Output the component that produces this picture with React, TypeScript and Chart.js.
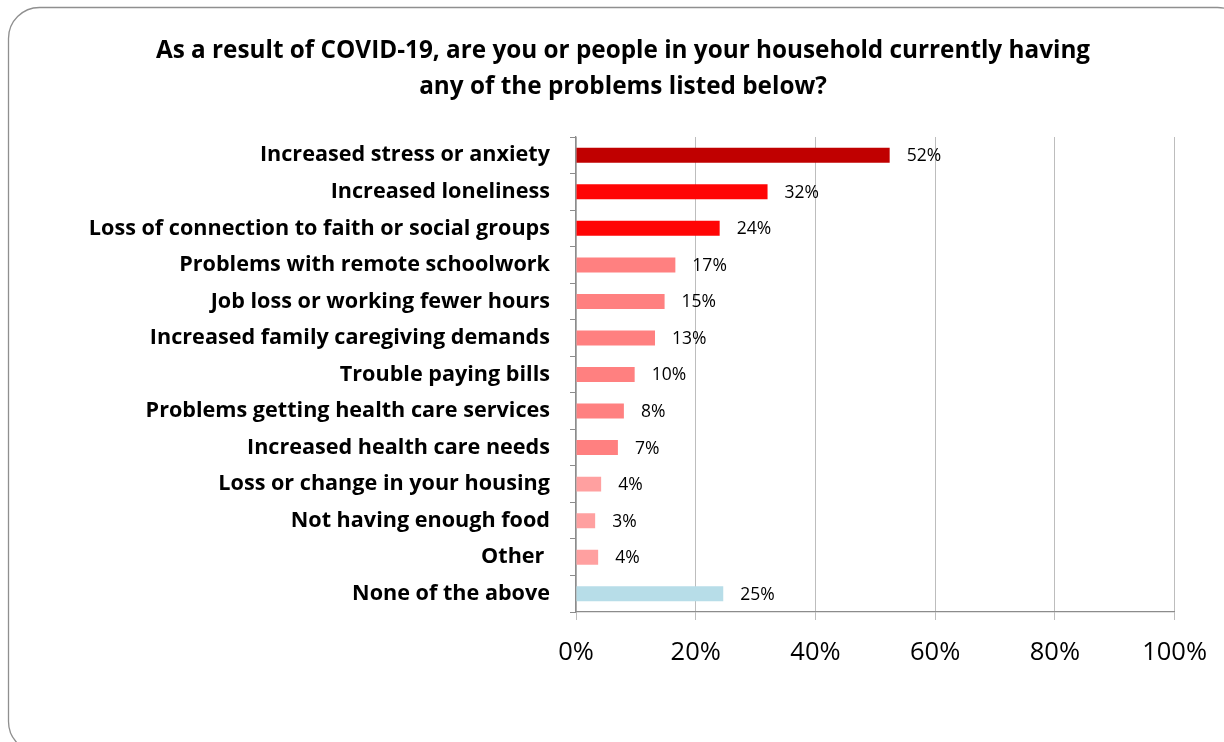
import React, { useEffect, useRef } from "react";
import { Chart, registerables } from "chart.js";

Chart.register(...registerables);

const titleLines = [
  "As a result of COVID-19, are you or people in your household currently having",
  "any of the problems listed below?",
];

const categories = [
  "Increased stress or anxiety",
  "Increased loneliness",
  "Loss of connection to faith or social groups",
  "Problems with remote schoolwork",
  "Job loss or working fewer hours",
  "Increased family caregiving demands",
  "Trouble paying bills",
  "Problems getting health care services",
  "Increased health care needs",
  "Loss or change in your housing",
  "Not having enough food",
  "Other ",
  "None of the above",
];

const values = [52.4, 32, 24, 16.6, 14.8, 13.2, 9.8, 8, 7, 4.2, 3.2, 3.7, 24.6];

const barColors = [
  "#C00000",
  "#FF0505",
  "#FF0505",
  "#FF8080",
  "#FF8080",
  "#FF8080",
  "#FF8080",
  "#FF8080",
  "#FF8080",
  "#FFA0A0",
  "#FFA0A0",
  "#FFA0A0",
  "#B7DDE8",
];

const xTicks = [0, 20, 40, 60, 80, 100];

const FONT = "'Open Sans', sans-serif";

const W = 1224;
const H = 742;
const AREA = { left: 576, right: 1175, top: 137, bottom: 612 };

const framePlugin = {
  id: "frame",
  beforeDraw(chart: any) {
    const ctx = chart.ctx;
    ctx.save();
    ctx.fillStyle = "#ffffff";
    ctx.fillRect(0, 0, W, H);
    const x = 8.5, y = 7.5, w = 1240, h = 745, r = 31;
    ctx.beginPath();
    ctx.moveTo(x + r, y);
    ctx.lineTo(x + w - r, y);
    ctx.arcTo(x + w, y, x + w, y + r, r);
    ctx.lineTo(x + w, y + h - r);
    ctx.arcTo(x + w, y + h, x + w - r, y + h, r);
    ctx.lineTo(x + r, y + h);
    ctx.arcTo(x, y + h, x, y + h - r, r);
    ctx.lineTo(x, y + r);
    ctx.arcTo(x, y, x + r, y, r);
    ctx.closePath();
    ctx.strokeStyle = "#8f8f8f";
    ctx.lineWidth = 1.3;
    ctx.stroke();
    ctx.fillStyle = "#000000";
    ctx.font = `bold 24.3px ${FONT}`;
    ctx.textAlign = "center";
    ctx.textBaseline = "middle";
    ctx.fillText(titleLines[0], 623, 51);
    ctx.fillText(titleLines[1], 623, 87);
    ctx.restore();
  },
};

const labelPlugin = {
  id: "barLabels",
  afterDatasetsDraw(chart: any) {
    const ctx = chart.ctx;
    const meta = chart.getDatasetMeta(0);
    ctx.save();
    ctx.fillStyle = "#000000";
    ctx.font = `17.5px ${FONT}`;
    ctx.textAlign = "left";
    ctx.textBaseline = "middle";
    meta.data.forEach((bar: any, i: number) => {
      ctx.fillText(`${Math.round(values[i])}%`, bar.x + 17, bar.y + 1);
    });
    ctx.restore();
  },
};

export default function App() {
  const ref = useRef<HTMLCanvasElement | null>(null);

  useEffect(() => {
    if (!ref.current) return;
    const chart = new Chart(ref.current, {
      type: "bar",
      data: {
        labels: categories,
        datasets: [
          {
            data: values,
            backgroundColor: barColors,
            borderWidth: 0,
            barPercentage: 0.82,
            categoryPercentage: 0.5,
          },
        ],
      },
      options: {
        indexAxis: "y",
        animation: false,
        responsive: false,
        maintainAspectRatio: false,
        layout: {
          padding: { top: AREA.top, left: 0, right: W - AREA.right, bottom: 0 },
        },
        plugins: {
          legend: { display: false },
          title: { display: false },
          tooltip: { enabled: false },
        },
        scales: {
          x: {
            min: 0,
            max: 100,
            afterBuildTicks(scale: any) {
              scale.ticks = xTicks.map((v) => ({ value: v }));
            },
            afterFit(scale: any) {
              scale.height = H - AREA.bottom;
            },
            ticks: {
              color: "#000000",
              font: { family: FONT, size: 25.5 },
              padding: 17,
              maxRotation: 0,
              callback: (v: any) => `${v}%`,
            },
            grid: {
              color: "#BDBDBD",
              lineWidth: 1,
              tickLength: 8,
              drawTicks: true,
            },
            border: { color: "#8c8c8c", width: 1.3 },
          },
          y: {
            afterFit(scale: any) {
              scale.width = AREA.left;
            },
            ticks: {
              color: "#000000",
              font: { family: FONT, size: 21.6, weight: "bold" },
              padding: 20,
              autoSkip: false,
            },
            grid: {
              drawOnChartArea: false,
              drawTicks: true,
              tickLength: 6,
              color: "#8c8c8c",
              offset: true,
            },
            border: { color: "#8c8c8c", width: 1.3 },
          },
        },
      },
      plugins: [framePlugin, labelPlugin],
    });
    return () => chart.destroy();
  }, []);

  return (
    <div style={{ position: "fixed", left: 0, top: 0, width: W, height: H, background: "#fff" }}>
      <canvas ref={ref} width={W} height={H} style={{ width: W, height: H, display: "block" }} />
    </div>
  );
}
